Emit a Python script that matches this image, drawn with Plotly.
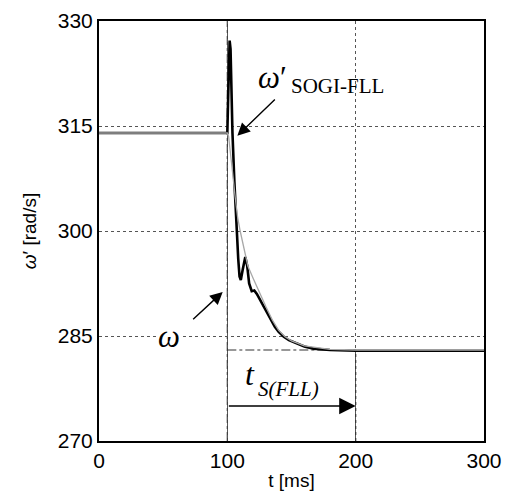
import plotly.graph_objects as go

# Actual grid frequency (rad/s) after a frequency step at t = 100 ms
t_omega = [0, 100, 101, 102, 104, 106, 108, 110, 113, 116, 120, 125, 130, 135,
           140, 145, 150, 160, 170, 180, 200, 300]
w_omega = [314.0, 314.0, 313.5, 312.0, 308.5, 305.0, 302.0, 300.0, 297.5, 295.0,
           293.3, 291.2, 289.2, 287.3, 285.8, 284.9, 284.3, 283.6, 283.3, 283.1,
           283.0, 283.0]

# Frequency estimated by the SOGI-FLL
t_fll = [0, 100, 100.5, 101.3, 101.8, 102.5, 103.2, 104, 105.5, 107, 108.5, 109.5,
         110.5, 112, 114, 115.5, 117, 119, 121, 123, 126, 128, 131, 134, 137, 140,
         144, 148, 154, 160, 167, 180, 200, 300]
w_fll = [314.0, 314.0, 318.0, 325.0, 327.2, 326.0, 318.0, 314.0, 307.0, 301.0,
         296.0, 293.5, 293.0, 294.5, 296.3, 295.0, 292.5, 291.4, 291.5, 291.0,
         290.0, 289.2, 288.2, 287.3, 286.3, 285.6, 284.9, 284.4, 283.9, 283.5,
         283.2, 283.0, 282.9, 282.9]

x_ticks = [0, 100, 200, 300]
y_ticks = [270, 285, 300, 315, 330]

t_step = 100      # instant of the frequency step
t_settle = 200    # settling instant of the FLL
w_final = 283     # final frequency
w_arrow = 275     # level of the settling-time arrow

fig = go.Figure()
fig.add_trace(go.Scatter(x=t_fll, y=w_fll, mode="lines",
                         line=dict(color="black", width=2.6), showlegend=False))
fig.add_trace(go.Scatter(x=t_omega, y=w_omega, mode="lines",
                         line=dict(color="#a8a8a8", width=1.3), showlegend=False))

# Reference lines: step instant, final value, settling instant
fig.add_shape(type="line", x0=t_step, x1=t_step, y0=270, y1=330,
              line=dict(color="#333", width=1.2, dash="dashdot"), layer="below")
fig.add_shape(type="line", x0=t_step, x1=t_settle, y0=w_final, y1=w_final,
              line=dict(color="#333", width=1.2, dash="dashdot"), layer="below")
fig.add_shape(type="line", x0=t_settle, x1=t_settle, y0=270, y1=w_final,
              line=dict(color="#333", width=1.3, dash="dot"), layer="below")

serif = "Liberation Serif"
ann = []
# omega'_SOGI-FLL label: symbol and subscript side by side
ann.append(dict(x=147.0, y=321.9, xanchor="right", text="<i>ω</i>′", showarrow=False,
                borderpad=0, font=dict(family=serif, size=31, color="black")))
ann.append(dict(x=149.0, y=320.7, xanchor="left", text="SOGI-FLL", showarrow=False,
                borderpad=0, font=dict(family=serif, size=21, color="black")))
ann.append(dict(x=107.8, y=313.6, ax=138.2, ay=319.0, axref="x", ayref="y",
                text="", showarrow=True, arrowhead=2, arrowsize=1.8,
                arrowwidth=1.4, arrowcolor="black"))
# omega label
ann.append(dict(x=54.5, y=284.9, text="<i>ω</i>", showarrow=False, bgcolor="white",
                font=dict(family=serif, size=31, color="black")))
ann.append(dict(x=96.4, y=291.3, ax=72.2, ay=287.2, axref="x", ayref="y",
                text="", showarrow=True, arrowhead=2, arrowsize=1.8,
                arrowwidth=1.4, arrowcolor="black"))
# settling time label and arrow
ann.append(dict(x=122.3, y=279.6, xanchor="right", text="<i>t</i>", showarrow=False,
                borderpad=0, font=dict(family=serif, size=32, color="black")))
ann.append(dict(x=123.3, y=277.5, xanchor="left", text="<i>S(FLL)</i>", showarrow=False,
                borderpad=0, font=dict(family=serif, size=21, color="black")))
ann.append(dict(x=t_settle, y=w_arrow, ax=t_step, ay=w_arrow, axref="x", ayref="y",
                text="", showarrow=True, arrowhead=2, arrowsize=2.2,
                arrowwidth=1.5, arrowcolor="black"))

axis_common = dict(showline=True, linecolor="black", linewidth=2, mirror=True,
                   showgrid=True, gridcolor="#555", griddash="dot", gridwidth=1,
                   zeroline=False, ticks="", automargin=False,
                   tickfont=dict(family="Liberation Sans", size=21, color="black"))
fig.update_layout(
    width=505, height=495,
    margin=dict(l=99, r=21, t=21, b=54),
    paper_bgcolor="white", plot_bgcolor="white",
    annotations=ann,
    xaxis=dict(range=[0, 300], tickvals=x_ticks,
               title=dict(text="t [ms]", standoff=2,
                          font=dict(family="Liberation Sans", size=19, color="black")),
               **axis_common),
    yaxis=dict(range=[270, 330], tickvals=y_ticks,
               title=dict(text="<i>ω</i>′ [rad/s]", standoff=16,
                          font=dict(family="Liberation Sans", size=19, color="black")),
               **axis_common),
)
fig.write_html("out.html")
